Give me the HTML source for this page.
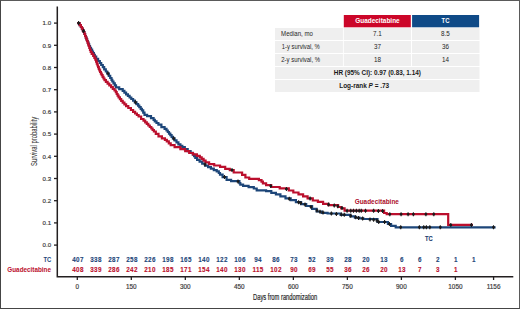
<!DOCTYPE html>
<html><head><meta charset="utf-8"><style>
html,body{margin:0;padding:0;background:#fff;}
body{width:520px;height:309px;overflow:hidden;position:relative;font-family:"Liberation Sans",sans-serif;}
#fr{position:absolute;left:0;top:0;width:518px;height:307px;border:1px solid;border-color:#5a5a5a #5a5a5a #454545 #454545;}
svg{position:absolute;left:0;top:0;}
table{position:absolute;left:275px;top:15px;border-collapse:separate;border-spacing:0;font-size:6.4px;color:#333;}
</style></head><body>
<div id="fr"></div>
<svg width="520" height="309" viewBox="0 0 520 309" font-family="'Liberation Sans', sans-serif">
<!-- legend table -->
<g>
<rect x="343.8" y="15" width="67" height="12.3" fill="#cc0629"/>
<rect x="412.1" y="15" width="67" height="12.3" fill="#0f4a87"/>
<g fill="#efefef">
<rect x="275" y="28" width="67.9" height="12"/><rect x="343.8" y="28" width="67.2" height="12"/><rect x="412" y="28" width="67.5" height="12"/>
<rect x="275" y="41" width="67.9" height="12"/><rect x="343.8" y="41" width="67.2" height="12"/><rect x="412" y="41" width="67.5" height="12"/>
<rect x="275" y="54" width="67.9" height="12"/><rect x="343.8" y="54" width="67.2" height="12"/><rect x="412" y="54" width="67.5" height="12"/>
<rect x="275" y="67" width="204.5" height="12"/>
<rect x="275" y="80" width="204.5" height="12"/>
</g>
<g font-size="6.3" fill="#262626">
<text x="281.1" y="36.2" textLength="31.8" lengthAdjust="spacingAndGlyphs">Median, mo</text>
<text x="281.8" y="49.4" textLength="38" lengthAdjust="spacingAndGlyphs">1-y survival, %</text>
<text x="281.3" y="62.3" textLength="38.7" lengthAdjust="spacingAndGlyphs">2-y survival, %</text>
</g>
<g font-size="6.3" fill="#262626" text-anchor="middle">
<text x="377.4" y="36.4">7.1</text><text x="445.5" y="36.4">8.5</text>
<text x="377.6" y="49.4">37</text><text x="445.5" y="49.4">36</text>
<text x="377.6" y="62.4">18</text><text x="445.5" y="62.4">14</text>
</g>
<g font-size="6.7" font-weight="bold" fill="#fff">
<text x="355.2" y="23.2" textLength="44.5" lengthAdjust="spacingAndGlyphs">Guadecitabine</text><text x="441.6" y="23.2" textLength="7.9" lengthAdjust="spacingAndGlyphs">TC</text>
</g>
<g font-size="6.3" font-weight="bold" fill="#1a1a1a">
<text x="333.8" y="75.2" textLength="87.1" lengthAdjust="spacingAndGlyphs">HR (95% CI): 0.97 (0.83, 1.14)</text>
<text x="339.2" y="88.2" textLength="50" lengthAdjust="spacingAndGlyphs">Log-rank <tspan font-style="italic">P</tspan> = .73</text>
</g>
</g>
<!-- axes -->
<g stroke="#231f20" stroke-width="1.5" fill="none">
<path d="M57.3 6.5V277.4M56.6 276.7H513.3"/>
</g>
<g stroke="#231f20" stroke-width="1.3"><line x1="54" x2="57.3" y1="23.10" y2="23.10"/><line x1="54" x2="57.3" y1="45.30" y2="45.30"/><line x1="54" x2="57.3" y1="67.50" y2="67.50"/><line x1="54" x2="57.3" y1="89.70" y2="89.70"/><line x1="54" x2="57.3" y1="111.90" y2="111.90"/><line x1="54" x2="57.3" y1="134.10" y2="134.10"/><line x1="54" x2="57.3" y1="156.30" y2="156.30"/><line x1="54" x2="57.3" y1="178.50" y2="178.50"/><line x1="54" x2="57.3" y1="200.70" y2="200.70"/><line x1="54" x2="57.3" y1="222.90" y2="222.90"/><line x1="54" x2="57.3" y1="245.10" y2="245.10"/><line x1="77.30" x2="77.30" y1="276.5" y2="280"/><line x1="131.31" x2="131.31" y1="276.5" y2="280"/><line x1="185.33" x2="185.33" y1="276.5" y2="280"/><line x1="239.34" x2="239.34" y1="276.5" y2="280"/><line x1="293.36" x2="293.36" y1="276.5" y2="280"/><line x1="347.38" x2="347.38" y1="276.5" y2="280"/><line x1="401.39" x2="401.39" y1="276.5" y2="280"/><line x1="455.40" x2="455.40" y1="276.5" y2="280"/><line x1="493.58" x2="493.58" y1="276.5" y2="280"/></g>
<g font-size="6.1" fill="#3c3c3c" stroke="#3c3c3c" stroke-width="0.18" text-anchor="end"><text x="51.1" y="25.30">1.0</text><text x="51.1" y="47.50">0.9</text><text x="51.1" y="69.70">0.8</text><text x="51.1" y="91.90">0.7</text><text x="51.1" y="114.10">0.6</text><text x="51.1" y="136.30">0.5</text><text x="51.1" y="158.50">0.4</text><text x="51.1" y="180.70">0.3</text><text x="51.1" y="202.90">0.2</text><text x="51.1" y="225.10">0.1</text><text x="51.1" y="247.30">0.0</text></g>
<g font-size="6.4" fill="#3c3c3c" stroke="#3c3c3c" stroke-width="0.18" text-anchor="middle"><text x="77.30" y="288.6">0</text><text x="131.31" y="288.6">150</text><text x="185.33" y="288.6">300</text><text x="239.34" y="288.6">450</text><text x="293.36" y="288.6">600</text><text x="347.38" y="288.6">750</text><text x="401.39" y="288.6">900</text><text x="455.40" y="288.6">1050</text><text x="493.58" y="288.6">1156</text></g>
<text x="253" y="300.2" font-size="8.4" fill="#2a2a2a" stroke="#2a2a2a" stroke-width="0.2" textLength="64.3" lengthAdjust="spacingAndGlyphs">Days from randomization</text>
<text transform="translate(37.3 166) rotate(-90)" font-size="8.4" fill="#333" stroke="#333" stroke-width="0.05" textLength="49.2" lengthAdjust="spacingAndGlyphs">Survival probability</text>
<!-- risk table -->
<g font-size="6.3" font-weight="bold" text-anchor="middle" letter-spacing="0.3" stroke-width="0.1"><text x="78.00" y="262" fill="#1d4679" stroke="#1d4679">407</text><text x="96.00" y="262" fill="#1d4679" stroke="#1d4679">338</text><text x="114.00" y="262" fill="#1d4679" stroke="#1d4679">287</text><text x="132.00" y="262" fill="#1d4679" stroke="#1d4679">258</text><text x="150.00" y="262" fill="#1d4679" stroke="#1d4679">226</text><text x="168.00" y="262" fill="#1d4679" stroke="#1d4679">198</text><text x="186.00" y="262" fill="#1d4679" stroke="#1d4679">165</text><text x="204.00" y="262" fill="#1d4679" stroke="#1d4679">140</text><text x="222.00" y="262" fill="#1d4679" stroke="#1d4679">122</text><text x="240.00" y="262" fill="#1d4679" stroke="#1d4679">106</text><text x="258.00" y="262" fill="#1d4679" stroke="#1d4679">94</text><text x="276.00" y="262" fill="#1d4679" stroke="#1d4679">86</text><text x="294.00" y="262" fill="#1d4679" stroke="#1d4679">73</text><text x="312.00" y="262" fill="#1d4679" stroke="#1d4679">52</text><text x="330.00" y="262" fill="#1d4679" stroke="#1d4679">39</text><text x="348.00" y="262" fill="#1d4679" stroke="#1d4679">28</text><text x="366.00" y="262" fill="#1d4679" stroke="#1d4679">20</text><text x="384.00" y="262" fill="#1d4679" stroke="#1d4679">13</text><text x="402.00" y="262" fill="#1d4679" stroke="#1d4679">6</text><text x="420.00" y="262" fill="#1d4679" stroke="#1d4679">6</text><text x="438.00" y="262" fill="#1d4679" stroke="#1d4679">2</text><text x="456.00" y="262" fill="#1d4679" stroke="#1d4679">1</text><text x="474.00" y="262" fill="#1d4679" stroke="#1d4679">1</text><text x="78.00" y="271.8" fill="#bb0f2d" stroke="#bb0f2d">408</text><text x="96.00" y="271.8" fill="#bb0f2d" stroke="#bb0f2d">339</text><text x="114.00" y="271.8" fill="#bb0f2d" stroke="#bb0f2d">286</text><text x="132.00" y="271.8" fill="#bb0f2d" stroke="#bb0f2d">242</text><text x="150.00" y="271.8" fill="#bb0f2d" stroke="#bb0f2d">210</text><text x="168.00" y="271.8" fill="#bb0f2d" stroke="#bb0f2d">185</text><text x="186.00" y="271.8" fill="#bb0f2d" stroke="#bb0f2d">171</text><text x="204.00" y="271.8" fill="#bb0f2d" stroke="#bb0f2d">154</text><text x="222.00" y="271.8" fill="#bb0f2d" stroke="#bb0f2d">140</text><text x="240.00" y="271.8" fill="#bb0f2d" stroke="#bb0f2d">130</text><text x="258.00" y="271.8" fill="#bb0f2d" stroke="#bb0f2d">115</text><text x="276.00" y="271.8" fill="#bb0f2d" stroke="#bb0f2d">102</text><text x="294.00" y="271.8" fill="#bb0f2d" stroke="#bb0f2d">90</text><text x="312.00" y="271.8" fill="#bb0f2d" stroke="#bb0f2d">69</text><text x="330.00" y="271.8" fill="#bb0f2d" stroke="#bb0f2d">55</text><text x="348.00" y="271.8" fill="#bb0f2d" stroke="#bb0f2d">36</text><text x="366.00" y="271.8" fill="#bb0f2d" stroke="#bb0f2d">26</text><text x="384.00" y="271.8" fill="#bb0f2d" stroke="#bb0f2d">20</text><text x="402.00" y="271.8" fill="#bb0f2d" stroke="#bb0f2d">13</text><text x="420.00" y="271.8" fill="#bb0f2d" stroke="#bb0f2d">7</text><text x="438.00" y="271.8" fill="#bb0f2d" stroke="#bb0f2d">3</text><text x="456.00" y="271.8" fill="#bb0f2d" stroke="#bb0f2d">1</text></g>
<g font-size="6.5" font-weight="bold">
<text x="43.5" y="261.8" fill="#1d4679" textLength="7.8" lengthAdjust="spacingAndGlyphs">TC</text>
<text x="7.3" y="271.8" fill="#bb0f2d" textLength="43.7" lengthAdjust="spacingAndGlyphs">Guadecitabine</text>
</g>
<!-- curves -->
<g fill="none" stroke-width="2.2" stroke-linejoin="miter" stroke-linecap="butt">
<path d="M77.3 23.1H79.0H79.6V25.1H80.9V27.0H81.5H81.9V28.7H82.8V30.3H83.6V32.0H84.0H84.4V34.0H85.1V36.0H85.5H85.8V37.7H86.5V39.3H87.2V41.0H87.5H87.8V42.7H88.5V44.3H89.2V46.0H89.5H90.0V47.8H91.0V49.7H92.1V51.5H92.6H93.0V53.2H93.9V54.8H94.8V56.5H95.3H96.2V58.8H98.1V61.0H99.0H99.8V63.0H101.2V65.0H102.0H102.8V67.2H104.2V69.4H105.0H105.8V71.5H107.2V73.5H108.0H108.8V75.8H110.2V78.0H111.0H111.5V79.8H112.3V81.5H112.8H113.5V83.4H114.8V85.4H116.0V87.3H116.7H119.2V89.2H121.8H122.7V90.9H124.4V92.7H126.1V94.4H127.0H127.9V95.9H129.6V97.5H131.3V99.0H132.2H133.1V100.7H134.8V102.4H136.5V104.1H137.4H138.1V105.6H139.3V107.1H140.0H140.7V108.8H141.9V110.4H142.6H143.2V112.7H144.5V114.9H145.2H147.1V116.2H149.1H151.0V118.1H152.9H153.6V119.8H154.8V121.4H155.5H156.5V123.0H158.4V124.6H159.4H161.4V127.2H163.3H164.6V128.9H165.8H166.5V130.5H167.8V132.0H169.0V133.6H169.7H170.3V135.2H171.6V136.8H172.9V138.4H173.6H174.6V140.4H176.5V142.3H178.4V144.3H179.4H180.4V145.8H182.3V147.2H183.3H184.8V149.1H187.7V151.1H189.1H190.6V152.9H192.2H192.8V154.6H194.1V156.2H195.3V157.9H195.9H197.1V159.8H199.6V161.7H200.8H202.2V163.6H205.2V165.6H206.6H208.1V167.1H210.9V168.7H212.4H213.8V170.1H216.7V171.4H218.1H218.8V173.0H220.0V174.6H220.7H222.6V177.2H224.6H226.6V179.8H228.5H231.1V181.1H233.7H238.9H239.4V183.1H240.3V184.6H240.8H243.1V185.9H245.4H248.6V187.2H251.8H253.8V188.5H255.7H256.7V190.4H257.7H263.5H266.1V191.1H268.7H271.3V192.8H273.9H275.9V194.4H277.8H280.4V196.4H282.9H285.5V198.3H288.1H290.7V200.2H293.3H295.9V202.2H298.5H301.1V204.1H303.7H306.2V206.0H308.8H310.2H312.1V208.9H314.1H316.6V211.5H319.2H321.8V212.8H324.4H327.6V213.5H330.9H337.4H340.6V214.8H343.8H347.8H350.4V216.4H352.9H354.9V217.7H356.8H359.4V218.3H362.0H363.3V219.0H364.6H367.2H372.4H376.2H377.5V222.0H378.9H386.7H387.9V224.0H389.2H391.1V225.9H393.1H395.7V227.3H398.3H495.6" stroke="#1d4679"/>
<path d="M77.3 23.1H79.0H79.6V25.1H80.9V27.0H81.5H81.9V28.7H82.8V30.3H83.6V32.0H84.0H84.4V34.0H85.1V36.0H85.5H85.8V37.7H86.4V39.3H87.0V41.0H87.3H87.6V42.7H88.2V44.3H88.7V46.0H89.0H89.3V48.0H90.0V50.0H90.7V52.0H91.0H91.7V53.9H93.2V55.8H93.9H94.4V57.8H95.3V59.7H95.8H96.1V61.6H96.8V63.6H97.5V65.5H97.8H98.1V67.1H98.8V68.8H99.4V70.4H99.7H100.1V72.0H100.9V73.6H101.7V75.2H102.1H102.6V76.9H103.5V78.5H104.5V80.2H105.0H105.9V81.9H107.6V83.7H109.3V85.4H110.2H111.1V87.1H112.8V88.8H114.5V90.5H115.4H115.8V92.2H116.7V94.0H117.6V95.7H118.0H118.6V97.4H119.9V99.2H121.2V100.9H121.8H122.7V102.6H124.4V104.4H126.1V106.1H127.0H128.3V108.0H130.9V110.0H132.2H133.1V111.8H135.1V113.5H136.0H136.9V115.0H138.6V116.5H139.5H141.1V119.0H142.7H143.5V120.7H145.2V122.3H146.0H146.8V123.9H148.3V125.5H149.1H149.8V127.0H151.3V128.5H152.0H152.6V130.0H153.9V131.5H154.5H155.8V133.8H157.0H158.5V136.3H160.0H161.9V138.4H163.9H164.9V139.9H166.8V141.4H167.8H168.8V143.3H170.7V145.2H171.7H174.6V147.2H177.5H180.4V149.1H183.3H185.2V151.1H189.2V153.0H191.1H193.0V154.4H196.9V155.9H198.8H199.8V157.4H201.7V158.8H202.7H203.6V160.6H205.6V162.3H206.5H209.1V164.2H211.7H214.2V165.5H216.8H220.1V166.8H223.3H225.2V168.8H227.2H229.8V170.1H232.4H233.7V172.5H235.0H240.2H242.1V174.9H244.1H245.4V177.5H246.7H249.2V178.8H251.8H257.0H258.9V180.1H260.9H261.5V181.7H262.9V183.3H263.5H266.1V185.2H268.7H271.2V187.0H273.8H276.5H279.7V188.4H282.9H286.8H288.8V190.5H290.7H293.3V192.5H295.9H298.5V194.4H301.1H303.1V196.4H305.0H307.6V198.4H310.2H312.8V200.5H315.4H317.9V201.8H320.5H323.1V203.8H325.7H328.3V205.1H330.9H336.1H338.1V207.0H340.0H341.3V208.3H342.6H344.6V210.7H346.5H382.8H384.1V213.0H385.4H386.7V214.2H388.0H448.2V224.9H473" stroke="#bb0f2d"/>
</g>
<g fill="none" stroke="#1a1a1a" stroke-width="1.1">
<path d="M78.6 21.1v4M83.5 29.0v4M232.0 168.0v4M270.8 183.9v4M286.4 186.9v4M310.1 196.4v4M328.6 202.5v4M334.3 203.4v4M337.8 204.2v4M342.0 206.0v4M347.1 208.7v4M350.7 208.7v4M353.5 208.7v4M356.4 208.8v4M359.2 208.8v4M361.3 208.8v4M365.5 208.8v4M373.6 208.8v4M378.4 208.9v4M382.6 208.9v4M389.8 212.2v4M401.1 212.2v4M408.1 212.2v4M413.4 212.2v4M425.9 212.2v4M433.8 212.2v4M450.8 222.9v4M471.4 222.9v4M108.0 71.5v4M135.5 100.2v4M173.7 136.5v4M205.0 162.5v4M224.5 175.1v4M238.0 179.5v4M289.3 196.7v4M298.6 200.2v4M300.8 201.0v4M305.0 202.6v4M311.0 204.9v4M317.0 208.4v4M320.0 209.7v4M323.0 210.5v4M331.4 211.5v4M336.4 212.0v4M341.4 212.5v4M344.3 212.8v4M350.7 213.8v4M355.7 215.3v4M358.5 215.9v4M362.6 216.5v4M370.0 217.6v4M373.6 217.8v4M376.8 218.6v4M378.7 219.9v4M384.6 220.0v4M389.4 222.1v4M400.7 225.3v4M419.4 225.3v4M423.7 225.3v4M426.4 225.3v4M429.8 225.3v4M440.3 225.3v4M493.5 225.3v4"/>
</g>
<g fill="none" stroke="#1a1a1a" stroke-width="2">
<path d="M77.3 23.1h2.6M82.2 31.0h2.6M230.7 170.0h2.6M269.5 185.9h2.6M285.1 188.9h2.6M308.8 198.4h2.6M327.3 204.5h2.6M333.0 205.4h2.6M336.5 206.2h2.6M340.7 208.0h2.6M345.8 210.7h2.6M349.4 210.7h2.6M352.2 210.7h2.6M355.1 210.8h2.6M357.9 210.8h2.6M360.0 210.8h2.6M364.2 210.8h2.6M372.3 210.8h2.6M377.1 210.9h2.6M381.3 210.9h2.6M388.5 214.2h2.6M399.8 214.2h2.6M406.8 214.2h2.6M412.1 214.2h2.6M424.6 214.2h2.6M432.5 214.2h2.6M449.5 224.9h2.6M470.1 224.9h2.6M106.7 73.5h2.6M134.2 102.2h2.6M172.4 138.5h2.6M203.7 164.5h2.6M223.2 177.1h2.6M236.7 181.5h2.6M288.0 198.7h2.6M297.3 202.2h2.6M299.5 203.0h2.6M303.7 204.6h2.6M309.7 206.9h2.6M315.7 210.4h2.6M318.7 211.7h2.6M321.7 212.5h2.6M330.1 213.5h2.6M335.1 214.0h2.6M340.1 214.5h2.6M343.0 214.8h2.6M349.4 215.8h2.6M354.4 217.3h2.6M357.2 217.9h2.6M361.3 218.5h2.6M368.7 219.6h2.6M372.3 219.8h2.6M375.5 220.6h2.6M377.4 221.9h2.6M383.3 222.0h2.6M388.1 224.1h2.6M399.4 227.3h2.6M418.1 227.3h2.6M422.4 227.3h2.6M425.1 227.3h2.6M428.5 227.3h2.6M439.0 227.3h2.6M492.2 227.3h2.6"/>
</g>
<g font-size="6.9" font-weight="bold" text-anchor="middle">
<text x="376.8" y="203.9" fill="#ad0f2b" textLength="44.2" lengthAdjust="spacingAndGlyphs">Guadecitabine</text>
<text x="428.8" y="240.9" fill="#1b4070" stroke="#1b4070" stroke-width="0.1" textLength="7.6" lengthAdjust="spacingAndGlyphs">TC</text>
</g>
</svg>
</body></html>
